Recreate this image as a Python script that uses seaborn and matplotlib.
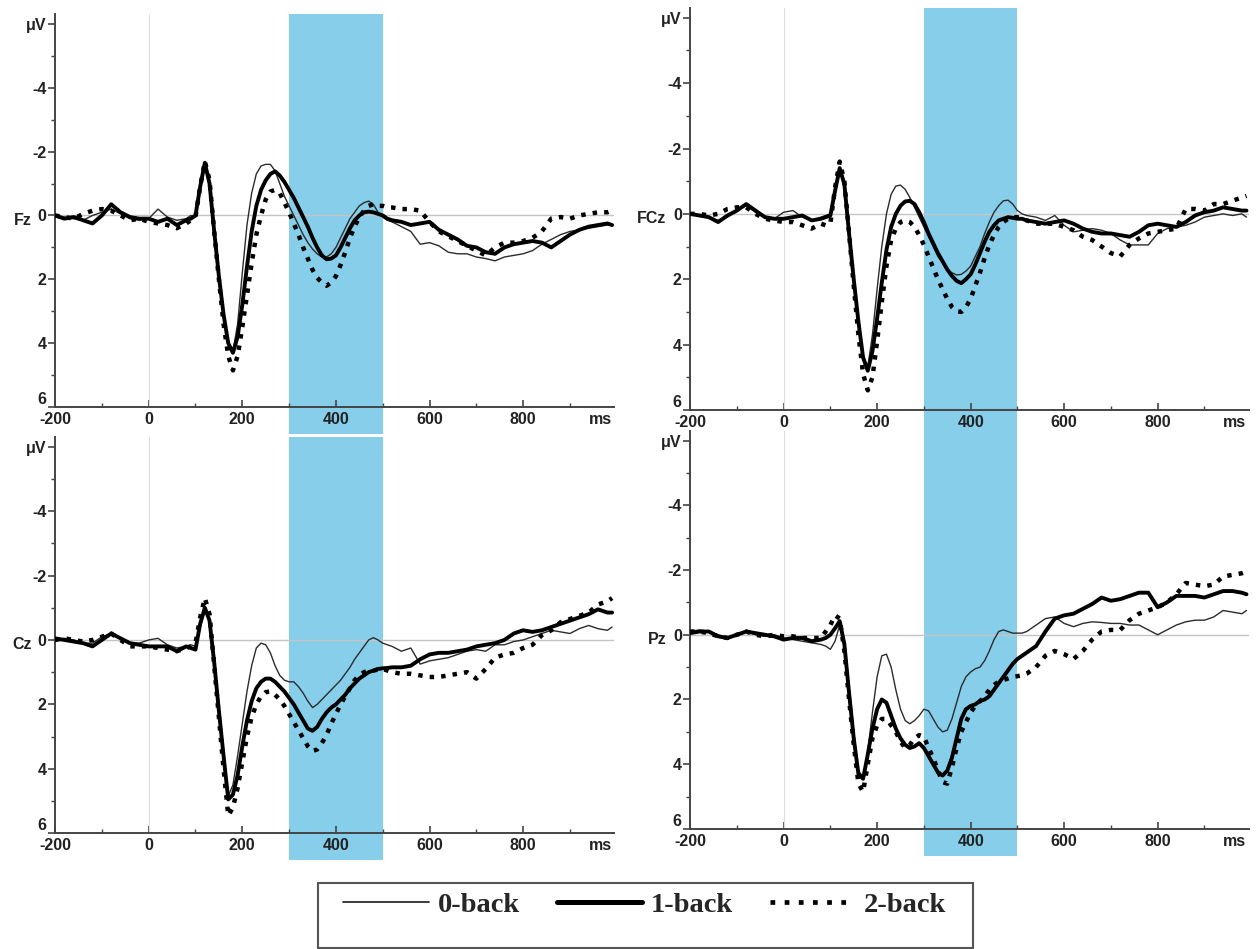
import matplotlib
matplotlib.use("Agg")
import matplotlib.pyplot as plt
import matplotlib.transforms as mtransforms
from matplotlib.lines import Line2D
from matplotlib.patches import Rectangle
from matplotlib.font_manager import FontProperties
import pandas as pd
import seaborn as sns

# sample times (ms)
times = [-200, -180, -160, -140, -120, -100, -80, -60, -40, -20, 0, 20, 40, 60, 80,
         90, 100, 110, 120, 130, 140, 150, 160, 170, 180, 190, 200, 210, 220, 230,
         240, 250, 260, 270, 280, 290, 300, 310, 320, 330, 340, 350, 360, 370, 380,
         390, 400, 410, 420, 430, 440, 450, 460, 470, 480, 490, 500, 510, 520,
         540, 560, 580, 600, 620, 640, 660, 680, 700, 720, 740, 760, 780, 800, 820,
         840, 860, 880, 900, 920, 940, 960, 980, 990]

conditions = ["0-back", "1-back", "2-back"]

# amplitudes in microvolts (negative plotted upwards)
fz_0back = [0.0, 0.05, 0.1, 0.15, 0.0, -0.1, -0.2, -0.05, 0.1, 0.15, 0.1, -0.2, 0.05, 0.15, 0.1,
            0.0, 0.05, -0.8, -1.6, -0.9, 0.6, 2.0, 3.2, 4.0, 4.25, 3.4, 1.8, 0.3, -0.7, -1.3,
            -1.55, -1.6, -1.6, -1.4, -1.0, -0.6, -0.3, 0.0, 0.3, 0.6, 0.85, 1.05, 1.2, 1.3, 1.3,
            1.2, 1.0, 0.7, 0.4, 0.1, -0.1, -0.3, -0.4, -0.45, -0.35, -0.1, 0.05, 0.15, 0.2,
            0.35, 0.5, 0.9, 0.85, 0.95, 1.15, 1.2, 1.2, 1.3, 1.35, 1.42, 1.3, 1.25, 1.2, 1.1,
            0.9, 0.75, 0.6, 0.5, 0.45, 0.4, 0.35, 0.3, 0.3]
fz_1back = [0.0, 0.1, 0.05, 0.15, 0.25, 0.0, -0.35, -0.1, 0.05, 0.1, 0.1, 0.2, 0.1, 0.3, 0.15,
            0.1, 0.0, -0.9, -1.65, -1.0, 0.5, 1.9, 3.1, 4.0, 4.3, 3.8, 2.8, 1.6, 0.5, -0.3,
            -0.8, -1.1, -1.3, -1.38, -1.25, -1.05, -0.8, -0.55, -0.25, 0.05, 0.35, 0.7, 1.0, 1.25, 1.37,
            1.35, 1.25, 1.0, 0.7, 0.4, 0.15, 0.0, -0.1, -0.12, -0.1, -0.05, 0.0, 0.1, 0.15,
            0.2, 0.3, 0.25, 0.2, 0.45, 0.6, 0.75, 0.95, 1.0, 1.15, 1.2, 1.0, 0.9, 0.85, 0.8,
            0.85, 1.0, 0.8, 0.6, 0.45, 0.35, 0.3, 0.25, 0.3]
fz_2back = [0.0, 0.05, 0.1, -0.05, -0.15, -0.2, -0.15, 0.0, 0.15, 0.1, 0.2, 0.25, 0.3, 0.4, 0.25,
            0.15, 0.05, -0.9, -1.7, -1.1, 0.5, 2.0, 3.4, 4.4, 4.85, 4.4, 3.5, 2.5, 1.5, 0.6,
            0.0, -0.5, -0.75, -0.8, -0.7, -0.4, -0.1, 0.25, 0.6, 1.0, 1.35, 1.7, 1.95, 2.1, 2.2,
            2.1, 1.9, 1.55, 1.15, 0.7, 0.35, 0.05, -0.15, -0.3, -0.35, -0.3, -0.3, -0.25, -0.25,
            -0.2, -0.2, -0.15, 0.2, 0.5, 0.65, 0.8, 0.95, 1.1, 1.25, 1.0, 0.85, 0.85, 0.8, 0.7,
            0.5, 0.1, 0.05, 0.1, 0.0, -0.05, -0.1, -0.1, -0.15]

fcz_0back = [0.0, 0.05, 0.1, 0.2, 0.1, -0.1, -0.25, -0.05, 0.1, 0.15, -0.05, -0.1, 0.1, 0.2, 0.1,
             0.05, 0.0, -0.7, -1.35, -0.8, 0.6, 2.0, 3.3, 4.3, 4.7, 3.7, 2.3, 1.0, 0.0, -0.6,
             -0.85, -0.88, -0.75, -0.5, -0.2, 0.1, 0.4, 0.7, 1.0, 1.3, 1.5, 1.7, 1.8, 1.87, 1.85,
             1.75, 1.6, 1.3, 1.0, 0.6, 0.25, -0.05, -0.25, -0.4, -0.42, -0.3, -0.1, 0.0, 0.05,
             0.1, 0.2, 0.05, 0.35, 0.55, 0.5, 0.45, 0.5, 0.6, 0.8, 0.95, 0.95, 0.95, 0.6, 0.45,
             0.4, 0.35, 0.25, 0.1, 0.05, 0.0, 0.05, 0.0, 0.1]
fcz_1back = [0.0, 0.05, 0.1, 0.25, 0.05, -0.1, -0.3, -0.1, 0.1, 0.15, 0.15, 0.1, 0.05, 0.2, 0.15,
             0.1, 0.05, -0.7, -1.4, -0.9, 0.6, 2.0, 3.3, 4.4, 4.8, 4.2, 3.2, 2.1, 1.1, 0.4,
             0.0, -0.25, -0.38, -0.4, -0.3, -0.05, 0.25, 0.6, 0.9, 1.2, 1.45, 1.7, 1.9, 2.05, 2.12,
             2.0, 1.85, 1.55, 1.2, 0.85, 0.55, 0.35, 0.2, 0.15, 0.1, 0.12, 0.15, 0.15, 0.2,
             0.25, 0.3, 0.25, 0.2, 0.3, 0.45, 0.55, 0.6, 0.6, 0.65, 0.7, 0.55, 0.35, 0.3, 0.35,
             0.4, 0.25, 0.05, -0.05, -0.1, -0.2, -0.15, -0.1, -0.1]
fcz_2back = [0.0, 0.0, 0.05, 0.0, -0.15, -0.2, -0.2, 0.0, 0.15, 0.2, 0.25, 0.25, 0.35, 0.45, 0.3,
             0.35, 0.3, -0.8, -1.6, -1.0, 0.6, 2.2, 3.7, 4.9, 5.4, 5.0, 3.9, 2.7, 1.6, 0.8,
             0.45, 0.25, 0.2, 0.25, 0.4, 0.65, 0.95, 1.3, 1.65, 2.0, 2.3, 2.6, 2.85, 2.98, 3.0,
             2.85, 2.6, 2.2, 1.8, 1.35, 0.95, 0.65, 0.4, 0.25, 0.15, 0.1, 0.1, 0.15, 0.2,
             0.3, 0.3, 0.3, 0.4, 0.5, 0.7, 0.8, 1.0, 1.2, 1.3, 0.95, 0.75, 0.6, 0.55, 0.5,
             0.45, -0.15, -0.15, -0.1, -0.3, -0.3, -0.4, -0.5, -0.55]

cz_0back = [0.0, -0.05, 0.0, 0.1, 0.1, -0.1, -0.2, -0.05, 0.1, 0.1, 0.0, -0.05, 0.15, 0.25, 0.2,
            0.15, 0.2, -0.4, -0.9, -0.6, 0.6, 2.0, 3.4, 4.85, 4.5, 3.6, 2.6, 1.6, 0.8, 0.25,
            0.1, 0.15, 0.4, 0.8, 1.1, 1.25, 1.3, 1.3, 1.45, 1.65, 1.9, 2.1, 2.0, 1.85, 1.7,
            1.55, 1.4, 1.25, 1.05, 0.85, 0.6, 0.4, 0.2, 0.0, -0.07, 0.0, 0.1, 0.15, 0.2,
            0.35, 0.25, 0.75, 0.65, 0.6, 0.55, 0.45, 0.35, 0.3, 0.35, 0.15, 0.15, 0.05, 0.0, -0.1,
            -0.2, -0.3, -0.25, -0.2, -0.35, -0.45, -0.35, -0.3, -0.4]
cz_1back = [-0.05, 0.0, 0.05, 0.1, 0.2, 0.0, -0.2, -0.05, 0.1, 0.15, 0.2, 0.2, 0.2, 0.35, 0.2,
            0.25, 0.3, -0.5, -1.0, -0.6, 0.7, 2.2, 3.6, 4.95, 4.8, 4.2, 3.3, 2.5, 1.9, 1.5,
            1.3, 1.2, 1.2, 1.3, 1.45, 1.6, 1.8, 2.0, 2.25, 2.5, 2.75, 2.82, 2.7, 2.45, 2.25,
            2.1, 2.0, 1.85, 1.7, 1.5, 1.35, 1.2, 1.1, 1.0, 0.95, 0.9, 0.88, 0.87, 0.85,
            0.85, 0.8, 0.6, 0.45, 0.4, 0.4, 0.35, 0.3, 0.2, 0.15, 0.1, 0.0, -0.2, -0.3, -0.25,
            -0.3, -0.4, -0.5, -0.6, -0.7, -0.8, -0.95, -0.85, -0.85]
cz_2back = [0.0, -0.05, 0.0, 0.05, 0.0, -0.1, -0.2, 0.0, 0.2, 0.2, 0.2, 0.25, 0.3, 0.35, 0.25,
            0.2, 0.1, -0.7, -1.3, -0.8, 0.8, 2.4, 4.0, 5.45, 5.2, 4.6, 3.8, 3.0, 2.4, 2.0,
            1.75, 1.62, 1.6, 1.7, 1.85, 2.05, 2.3, 2.55, 2.8, 3.05, 3.3, 3.45, 3.4, 3.2, 2.95,
            2.6, 2.3, 2.0, 1.75, 1.5, 1.25, 1.1, 1.0, 0.95, 0.95, 0.92, 0.9, 0.95, 1.0,
            1.05, 1.05, 1.1, 1.15, 1.15, 1.1, 1.05, 1.0, 1.2, 0.9, 0.55, 0.45, 0.4, 0.25, 0.15,
            -0.15, -0.3, -0.55, -0.65, -0.75, -0.85, -1.1, -1.2, -1.3]

pz_0back = [-0.1, -0.15, -0.1, 0.0, 0.1, 0.0, -0.1, 0.0, 0.05, 0.0, 0.1, 0.15, 0.2, 0.25, 0.3,
            0.35, 0.45, 0.2, -0.3, 0.2, 1.6, 3.0, 4.2, 4.4, 3.6, 2.4, 1.3, 0.65, 0.6, 1.0,
            1.7, 2.3, 2.65, 2.75, 2.65, 2.5, 2.3, 2.35, 2.6, 2.85, 3.0, 2.95, 2.6, 2.1, 1.6,
            1.3, 1.15, 1.05, 1.0, 0.8, 0.5, 0.15, -0.1, -0.15, -0.1, -0.05, -0.05, -0.05, -0.1,
            -0.3, -0.5, -0.55, -0.35, -0.25, -0.35, -0.4, -0.38, -0.35, -0.35, -0.3, -0.3, -0.15, 0.0, -0.15,
            -0.3, -0.4, -0.45, -0.45, -0.55, -0.75, -0.7, -0.65, -0.75]
pz_1back = [-0.05, -0.1, -0.1, 0.05, 0.1, 0.0, -0.1, -0.05, 0.0, 0.05, 0.15, 0.1, 0.1, 0.2, 0.15,
            0.1, 0.0, -0.2, -0.42, 0.3, 1.8, 3.2, 4.3, 4.45, 3.7, 2.9, 2.3, 2.0, 2.1, 2.5,
            2.9, 3.2, 3.4, 3.5, 3.45, 3.35, 3.5, 3.75, 4.0, 4.25, 4.35, 4.2, 3.8, 3.2, 2.6,
            2.3, 2.2, 2.15, 2.05, 2.0, 1.9, 1.7, 1.5, 1.3, 1.1, 0.9, 0.75, 0.65, 0.55,
            0.35, -0.1, -0.5, -0.6, -0.65, -0.8, -0.95, -1.15, -1.05, -1.1, -1.2, -1.3, -1.3, -0.85, -1.0,
            -1.2, -1.2, -1.2, -1.15, -1.25, -1.35, -1.35, -1.3, -1.25]
pz_2back = [-0.1, -0.1, -0.05, 0.05, 0.1, 0.0, -0.1, 0.0, 0.05, 0.0, 0.05, 0.05, 0.1, 0.1, 0.1,
            -0.1, -0.3, -0.6, -0.5, 0.5, 2.0, 3.4, 4.6, 4.85, 4.0, 3.2, 2.8, 2.6, 2.6, 2.8,
            3.0, 3.3, 3.5, 3.4, 3.2, 3.1, 3.15, 3.5, 3.8, 4.2, 4.55, 4.6, 4.1, 3.5, 3.0,
            2.7, 2.4, 2.2, 2.05, 1.9, 1.7, 1.55, 1.45, 1.4, 1.35, 1.3, 1.28, 1.25, 1.2,
            1.0, 0.65, 0.5, 0.6, 0.75, 0.5, 0.15, -0.1, -0.15, -0.15, -0.45, -0.65, -0.75, -0.85, -1.0,
            -1.25, -1.6, -1.55, -1.5, -1.55, -1.8, -1.85, -1.9, -1.95]

channels = ["Fz", "FCz", "Cz", "Pz"]
channel_data = {
    "Fz": [fz_0back, fz_1back, fz_2back],
    "FCz": [fcz_0back, fcz_1back, fcz_2back],
    "Cz": [cz_0back, cz_1back, cz_2back],
    "Pz": [pz_0back, pz_1back, pz_2back],
}

panel_rects = {
    "Fz": [0.0438, 0.571, 0.445, 0.414],
    "FCz": [0.549, 0.568, 0.4445, 0.4236],
    "Cz": [0.0438, 0.122, 0.445, 0.4175],
    "Pz": [0.549, 0.1265, 0.4445, 0.4195],
}

palette = {"0-back": "#2b2b2b", "1-back": "black", "2-back": "black"}
widths = {"0-back": 1.0, "1-back": 2.8, "2-back": 3.2}
dash_styles = {"0-back": "", "1-back": "", "2-back": (1, 1.6)}

sns.set_style("ticks")
plt.rcParams['font.family'] = ['Liberation Sans', 'DejaVu Sans']
plt.rcParams['axes.unicode_minus'] = False

fig = plt.figure(figsize=(12.57, 9.49), dpi=100)
tick_font = dict(fontsize=11.5, fontweight='bold', color='#222222')

for ch in channels:
    ax = fig.add_axes(panel_rects[ch])

    # long-form table for seaborn
    rows = []
    for cond, values in zip(conditions, channel_data[ch]):
        assert len(values) == len(times), (ch, cond, len(values))
        for t, v in zip(times, values):
            rows.append({"time": t, "amp": v, "cond": cond})
    df = pd.DataFrame(rows)

    # shaded 300-500 ms window, running past the axis like in the figure
    span = Rectangle((300, -0.068), 200, 1.068, transform=ax.get_xaxis_transform(),
                     facecolor='#87ceeb', edgecolor='none', clip_on=False, zorder=0.2)
    ax.add_patch(span)
    ax.axhline(0, color='#c4c4c4', lw=1.0, zorder=1)
    ax.axvline(0, color='#dcdcdc', lw=0.8, zorder=1)

    sns.lineplot(data=df, x="time", y="amp", hue="cond", size="cond", style="cond",
                 palette=palette, sizes=widths, dashes=dash_styles,
                 estimator=None, sort=False, legend=False, ax=ax, zorder=3)

    ax.set_xlim(-200, 995)
    ax.set_ylim(6, -6.3)
    ax.set_xlabel("")
    ax.set_ylabel("")

    ax.set_yticks([-6, -4, -2, 0, 2, 4, 6])
    ax.set_yticklabels(["μV", "-4", "-2", "0", "2", "4", "6"], **tick_font)
    ax.set_yticks([-5, -3, -1, 1, 3, 5], minor=True)
    ax.set_xticks([-200, 0, 200, 400, 600, 800, 965])
    ax.set_xticklabels(["-200", "0", "200", "400", "600", "800", "ms"], **tick_font)
    ax.set_xticks([-100, 100, 300, 500, 700, 900], minor=True)
    ax.xaxis.get_major_ticks()[-1].tick1line.set_visible(False)

    ax.tick_params(axis='y', which='major', direction='out', length=5, width=1.2,
                   color='#444444', pad=1)
    ax.tick_params(axis='y', which='minor', direction='out', length=3, width=1.0,
                   color='#444444')
    ax.tick_params(axis='x', which='major', direction='in', length=5, width=1.2,
                   color='#444444', pad=3.5)
    ax.tick_params(axis='x', which='minor', direction='in', length=3, width=1.0,
                   color='#444444')

    # lift the bottom "6" label a little so it sits just above "-200"
    ax.get_yticklabels()[-1].set_verticalalignment('bottom')

    for side in ['top', 'right']:
        ax.spines[side].set_visible(False)
    for side in ['left', 'bottom']:
        ax.spines[side].set_color('#444444')
        ax.spines[side].set_linewidth(1.4)
    ax.patch.set_alpha(0)

    # channel name left of the zero tick
    trans = mtransforms.blended_transform_factory(ax.transAxes, ax.transData)
    ax.text(-0.042, 0.15, ch, transform=trans, ha='right', va='center', **tick_font)

# legend box at the bottom
fig.patches.append(Rectangle((0.253, 0.001), 0.521, 0.0685, transform=fig.transFigure,
                             fill=False, edgecolor='#555555', lw=1.5))
handles = [
    Line2D([], [], color=palette["0-back"], lw=1.3),
    Line2D([], [], color="black", lw=3.6),
    Line2D([], [], color="black", lw=3.4, dashes=(1, 2.0)),
]
fig.legend(handles, conditions, loc='center', bbox_to_anchor=(0.513, 1 - 905 / 949),
           ncol=3, frameon=False,
           prop=FontProperties(family='Liberation Serif', weight='bold', size=20.5),
           handlelength=3.0, handletextpad=0.3, columnspacing=1.3)

fig.savefig("out.png", dpi=100)
